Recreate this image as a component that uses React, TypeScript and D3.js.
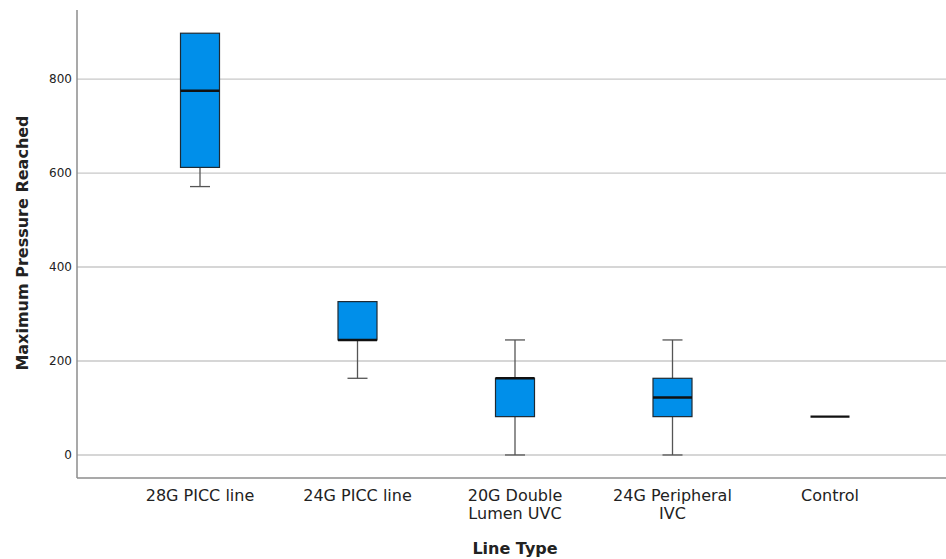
import { useEffect, useRef } from 'react';
import * as d3 from 'd3';

const WIDTH = 946;
const HEIGHT = 559;

const categories = ['28G PICC line', '24G PICC line', '20G Double Lumen UVC', '24G Peripheral IVC', 'Control'];
const categoryLines = [['28G PICC line'], ['24G PICC line'], ['20G Double', 'Lumen UVC'], ['24G Peripheral', 'IVC'], ['Control']];
const whiskerLow = [571.2, 163.2, 0, 0, 81.6];
const q1 = [612, 244.8, 81.6, 81.6, 81.6];
const median = [775.2, 244.8, 163.2, 122.4, 81.6];
const q3 = [897.6, 326.4, 163.2, 163.2, 81.6];
const whiskerHigh = [897.6, 326.4, 244.8, 244.8, 81.6];
const yTicks = [0, 200, 400, 600, 800];

const FONT = "'DejaVu Sans', sans-serif";

export default function App() {
  const svgRef = useRef<SVGSVGElement>(null);

  useEffect(() => {
    const svg = d3.select(svgRef.current);
    svg.selectAll('*').remove();

    const left = 77;
    const bottom = 478;
    const top = 10;

    const y = d3.scaleLinear().domain([-49, 947]).range([bottom, top]);
    const x = d3.scalePoint<string>().domain(categories).range([200, 830]);

    svg.append('rect').attr('width', WIDTH).attr('height', HEIGHT).attr('fill', '#fff');

    // gridlines
    yTicks.forEach((t) => {
      svg
        .append('line')
        .attr('x1', left)
        .attr('x2', WIDTH)
        .attr('y1', y(t))
        .attr('y2', y(t))
        .attr('stroke', '#c8c8c8')
        .attr('stroke-width', 1.3);
      svg
        .append('text')
        .attr('x', left - 5)
        .attr('y', y(t))
        .attr('dy', '0.35em')
        .attr('text-anchor', 'end')
        .attr('font-family', FONT)
        .attr('font-size', 12)
        .attr('fill', '#222')
        .text(t);
    });

    // axes
    svg
      .append('line')
      .attr('x1', left)
      .attr('x2', left)
      .attr('y1', top)
      .attr('y2', bottom)
      .attr('stroke', '#8c8c8c')
      .attr('stroke-width', 1.5);
    svg
      .append('line')
      .attr('x1', left)
      .attr('x2', WIDTH)
      .attr('y1', bottom)
      .attr('y2', bottom)
      .attr('stroke', '#8c8c8c')
      .attr('stroke-width', 1.5);

    const boxW = 39;
    const capW = 20;

    categories.forEach((c, i) => {
      const cx = x(c)!;
      // whiskers
      if (whiskerLow[i] < q1[i]) {
        svg
          .append('line')
          .attr('x1', cx)
          .attr('x2', cx)
          .attr('y1', y(q1[i]))
          .attr('y2', y(whiskerLow[i]))
          .attr('stroke', '#555')
          .attr('stroke-width', 1.3);
        svg
          .append('line')
          .attr('x1', cx - capW / 2)
          .attr('x2', cx + capW / 2)
          .attr('y1', y(whiskerLow[i]))
          .attr('y2', y(whiskerLow[i]))
          .attr('stroke', '#555')
          .attr('stroke-width', 1.3);
      }
      if (whiskerHigh[i] > q3[i]) {
        svg
          .append('line')
          .attr('x1', cx)
          .attr('x2', cx)
          .attr('y1', y(q3[i]))
          .attr('y2', y(whiskerHigh[i]))
          .attr('stroke', '#555')
          .attr('stroke-width', 1.3);
        svg
          .append('line')
          .attr('x1', cx - capW / 2)
          .attr('x2', cx + capW / 2)
          .attr('y1', y(whiskerHigh[i]))
          .attr('y2', y(whiskerHigh[i]))
          .attr('stroke', '#555')
          .attr('stroke-width', 1.3);
      }
      // box
      if (q3[i] > q1[i]) {
        svg
          .append('rect')
          .attr('x', cx - boxW / 2)
          .attr('y', y(q3[i]))
          .attr('width', boxW)
          .attr('height', y(q1[i]) - y(q3[i]))
          .attr('fill', '#008fea')
          .attr('stroke', '#1e2a33')
          .attr('stroke-width', 1.2);
      }
      // median
      svg
        .append('line')
        .attr('x1', cx - boxW / 2)
        .attr('x2', cx + boxW / 2)
        .attr('y1', y(median[i]))
        .attr('y2', y(median[i]))
        .attr('stroke', '#111')
        .attr('stroke-width', 2.4);

      // category label
      categoryLines[i].forEach((line, j) => {
        svg
          .append('text')
          .attr('x', cx)
          .attr('y', 501 + j * 17.5)
          .attr('text-anchor', 'middle')
          .attr('font-family', FONT)
          .attr('font-size', 16)
          .attr('fill', '#222')
          .text(line);
      });
    });

    // axis titles
    svg
      .append('text')
      .attr('x', x(categories[2])!)
      .attr('y', 554)
      .attr('text-anchor', 'middle')
      .attr('font-family', FONT)
      .attr('font-size', 16)
      .attr('font-weight', 700)
      .attr('fill', '#222')
      .text('Line Type');
    svg
      .append('text')
      .attr('transform', `translate(28, ${y(400) - 24}) rotate(-90)`)
      .attr('text-anchor', 'middle')
      .attr('font-family', FONT)
      .attr('font-size', 16)
      .attr('font-weight', 700)
      .attr('fill', '#222')
      .text('Maximum Pressure Reached');
  }, []);

  return (
    <svg
      ref={svgRef}
      width={WIDTH}
      height={HEIGHT}
      style={{ position: 'absolute', left: 0, top: 0, display: 'block' }}
    />
  );
}
